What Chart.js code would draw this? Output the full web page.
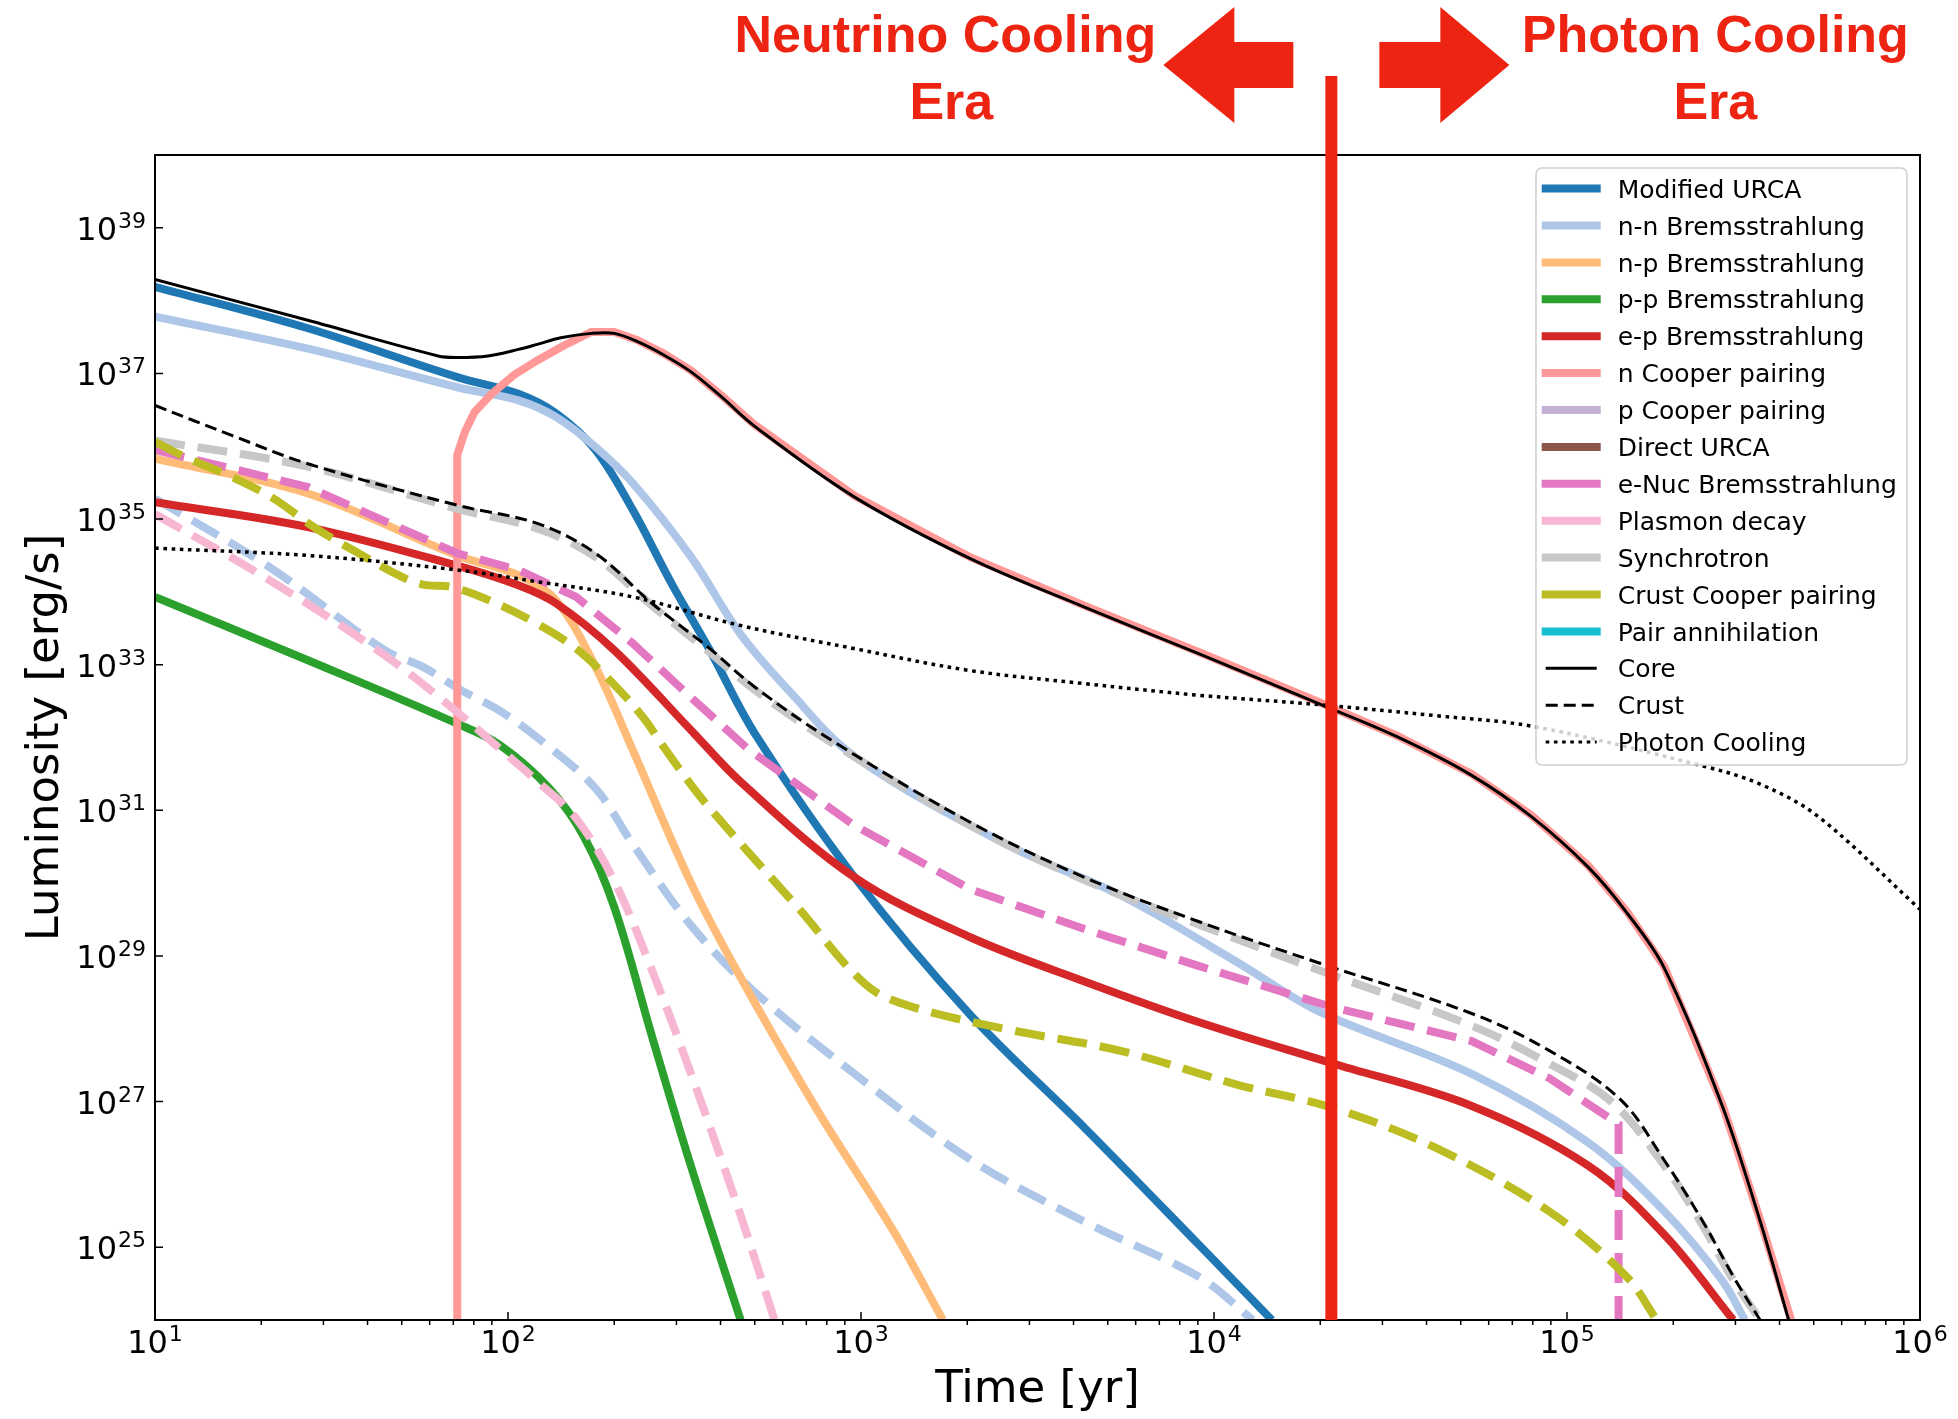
<!DOCTYPE html>
<html>
<head>
<meta charset="utf-8">
<title>Neutron star cooling: luminosity vs time</title>
<script src="https://cdn.jsdelivr.net/npm/chart.js"></script>
<style>
  html, body { margin: 0; padding: 0; background: #fff; }
  #wrap { width: 1958px; height: 1419px; }
</style>
</head>
<body>
<div id="wrap"><canvas id="coolingChart" width="1958" height="1419"></canvas></div>
<script>
// curves, each point is [time in yr, luminosity in erg/s]
const modifiedUrca = [[10, 1.55e38], [27.1, 4.17e37], [71.8, 8.91e36], [107, 5.25e36], [137, 2.82e36], [177, 8.91e35], [226, 1.32e35], [291, 1.29e34], [373, 1.58e33], [501, 1.12e32], [959, 1.20e30], [2032, 1.58e28], [4295, 4.37e26], [9078, 1.07e25], [14590, 1e24]];
const nnBrems = [[10, 6.03e37], [27.1, 2.19e37], [71.8, 6.46e36], [107, 4.27e36], [137, 2.51e36], [177, 9.77e35], [226, 3.09e35], [330, 3.02e34], [454, 2.69e33], [631, 4.17e32], [959, 5.50e31], [2606, 3.31e30], [5508, 6.61e29], [11670, 8.13e28], [19950, 1.70e28], [53700, 2.40e27], [114800, 2.75e26], [188800, 3.09e25], [275400, 3.47e24], [319200, 1e24]];
const nnBremsCrust = [[10, 1.91e35], [21.1, 2.19e34], [44.7, 1.58e33], [57.4, 9.33e32], [73.6, 4.47e32], [94.6, 2.34e32], [121, 1.0e32], [177, 2.0e31], [226, 3.39e30], [330, 2.63e29], [501, 3.16e28], [959, 2.40e27], [2032, 1.62e26], [4295, 2.24e25], [9078, 3.89e24], [12880, 1e24]];
const npBrems = [[10, 6.76e35], [27.1, 2.24e35], [71.8, 3.16e34], [107, 1.70e34], [137, 7.59e33], [177, 9.33e32], [226, 6.61e31], [330, 1.0e30], [454, 5.25e28], [748, 7.94e26], [1233, 1.70e25], [1706, 1e24]];
const ppBrems = [[10, 8.51e33], [27.1, 1.15e33], [71.8, 1.55e32], [94.6, 7.94e31], [131, 2.0e31], [164, 4.37e30], [200, 4.68e29], [256, 7.76e27], [330, 1.29e26], [456, 1e24]];
const epBrems = [[10, 1.70e35], [27.1, 7.76e34], [71.8, 2.29e34], [107, 1.23e34], [137, 6.92e33], [200, 1.58e33], [330, 1.26e32], [454, 2.51e31], [959, 1.20e30], [2032, 1.82e29], [4295, 4.47e28], [9078, 1.23e28], [21480, 3.39e27], [53700, 8.71e26], [114800, 1.32e26], [188800, 1.48e25], [295800, 1e24]];
const nCooper = [[71.8, 1e24], [71.8, 7.59e35], [75.5, 1.58e36], [80.4, 2.95e36], [89.9, 5.25e36], [104, 9.55e36], [121, 1.51e37], [141, 2.29e37], [172, 3.72e37], [200, 3.72e37], [232, 2.88e37], [277, 1.86e37], [330, 1.10e37], [402, 5.01e36], [501, 1.95e36], [959, 2.09e35], [2032, 3.02e34], [4295, 6.46e33], [9078, 1.48e33], [19950, 3.02e32], [33100, 1.05e32], [53700, 3.16e31], [79430, 8.51e30], [114800, 1.74e30], [147900, 4.07e29], [188800, 7.08e28], [275400, 9.12e26], [352400, 2.40e25], [431500, 1e24]];
const eNucBrems = [[10, 8.91e35], [27.1, 2.75e35], [71.8, 3.39e34], [107, 2.0e34], [156, 8.51e33], [226, 1.95e33], [330, 3.55e32], [479, 6.92e31], [959, 6.17e30], [2032, 8.32e29], [4295, 2.34e29], [9078, 7.24e28], [21480, 2.0e28], [53700, 6.76e27], [89130, 2.09e27], [140000, 4.90e26], [140000, 1e24]];
const plasmonDecay = [[10, 1.17e35], [21.1, 1.45e34], [44.7, 1.35e33], [71.8, 2.24e32], [94.6, 7.08e31], [121, 2.51e31], [156, 7.76e30], [200, 1.07e30], [256, 6.31e28], [330, 2.40e27], [423, 7.94e25], [466, 2.0e25], [569, 1e24]];
const synchrotron = [[10, 1.20e36], [27.1, 5.25e35], [71.8, 1.38e35], [121, 7.41e34], [177, 3.02e34], [256, 6.46e33], [373, 1.48e33], [501, 4.47e32], [826, 8.51e31], [2032, 6.31e30], [4295, 1.10e30], [9078, 2.69e29], [19950, 6.31e28], [53700, 1.10e28], [89130, 3.31e27], [133400, 1.0e27], [188800, 1.32e26], [242100, 2.0e25], [295800, 3.55e24], [352400, 1e24]];
const crustCooper = [[10, 1.15e36], [12.2, 7.08e35], [16.5, 3.80e35], [21.7, 1.91e35], [28.2, 7.76e34], [37.1, 3.55e34], [49.4, 1.66e34], [57.5, 1.26e34], [69.2, 1.17e34], [88.9, 7.59e33], [118, 3.89e33], [154, 1.74e33], [195, 6.03e32], [241, 1.91e32], [277, 7.24e31], [346, 1.66e31], [429, 4.90e30], [661, 4.68e29], [1035, 3.98e28], [1396, 2.0e28], [2606, 9.77e27], [5508, 4.90e27], [11670, 1.70e27], [21480, 8.32e26], [42270, 2.34e26], [89130, 3.09e25], [147200, 3.98e24], [179500, 1e24]];
const coreTotal = [[10, 1.95e38], [27.1, 5.37e37], [63.4, 1.74e37], [71.8, 1.66e37], [87.7, 1.74e37], [107, 2.14e37], [121, 2.51e37], [141, 3.09e37], [172, 3.55e37], [200, 3.55e37], [232, 2.75e37], [277, 1.78e37], [330, 1.05e37], [402, 4.79e36], [501, 1.86e36], [959, 2.0e35], [2032, 2.88e34], [4295, 6.17e33], [9078, 1.41e33], [19950, 2.88e32], [33100, 1.02e32], [53700, 3.02e31], [79430, 8.13e30], [114800, 1.66e30], [147900, 3.89e29], [188800, 6.76e28], [275400, 8.71e26], [352400, 2.29e25], [424600, 1e24]];
const crustTotal = [[10, 3.63e36], [16.5, 1.41e36], [27.1, 5.75e35], [71.8, 1.55e35], [121, 8.71e34], [177, 3.39e34], [256, 6.92e33], [373, 1.66e33], [501, 4.90e32], [826, 9.12e31], [2032, 6.92e30], [4295, 1.20e30], [9078, 2.95e29], [19950, 7.94e28], [53700, 1.62e28], [89130, 5.01e27], [141600, 1.07e27], [188800, 1.55e26], [242100, 2.29e25], [295800, 3.98e24], [352400, 1e24]];
const photonCooling = [[10, 3.98e34], [27.1, 3.16e34], [71.8, 2.0e34], [121, 1.38e34], [226, 8.51e33], [454, 3.47e33], [959, 1.66e33], [2032, 8.32e32], [4295, 5.50e32], [9078, 3.80e32], [19950, 2.82e32], [42200, 2.0e32], [80720, 1.41e32], [242100, 4.07e31], [352400, 2.29e31], [512900, 8.32e30], [1e6, 4.37e29]];

// legend entries, in the order of the figure
const legendNames = ['Modified URCA', 'n-n Bremsstrahlung', 'n-p Bremsstrahlung', 'p-p Bremsstrahlung', 'e-p Bremsstrahlung', 'n Cooper pairing', 'p Cooper pairing', 'Direct URCA', 'e-Nuc Bremsstrahlung', 'Plasmon decay', 'Synchrotron', 'Crust Cooper pairing', 'Pair annihilation', 'Core', 'Crust', 'Photon Cooling'];
const legendColors = ['#1f77b4', '#aec7e8', '#ffbb78', '#2ca02c', '#d62728', '#ff9896', '#c5b0d5', '#8c564b', '#e377c2', '#f7b6d2', '#c7c7c7', '#bcbd22', '#17becf', '#000000', '#000000', '#000000'];

// axis ticks
const timeTicks = [1e1, 1e2, 1e3, 1e4, 1e5, 1e6];
const lumTicks = [1e25, 1e27, 1e29, 1e31, 1e33, 1e35, 1e37, 1e39];

// time where neutrino cooling hands over to photon cooling
const eraBoundary = 2.15e4;

const RED = '#ee2413';
const DASH = [30, 13];

function series(label, points, color, opts) {
    return Object.assign({
        label: label,
        data: points.map(p => ({ x: p[0], y: p[1] })),
        borderColor: color,
        backgroundColor: color,
        borderWidth: 8,
        fill: false,
        pointRadius: 0,
        tension: 0.35,
        clip: 0
    }, opts || {});
}

const datasets = [
    series('Modified URCA', modifiedUrca, '#1f77b4'),
    series('n-n Bremsstrahlung', nnBrems, '#aec7e8'),
    series('n-n Bremsstrahlung (crust)', nnBremsCrust, '#aec7e8', { borderDash: DASH }),
    series('n-p Bremsstrahlung', npBrems, '#ffbb78'),
    series('p-p Bremsstrahlung', ppBrems, '#2ca02c'),
    series('e-p Bremsstrahlung', epBrems, '#d62728'),
    series('n Cooper pairing', nCooper, '#ff9896', { tension: 0 }),
    series('e-Nuc Bremsstrahlung', eNucBrems, '#e377c2', { borderDash: DASH, tension: 0 }),
    series('Plasmon decay', plasmonDecay, '#f7b6d2', { borderDash: DASH }),
    series('Synchrotron', synchrotron, '#c7c7c7', { borderDash: DASH }),
    series('Crust Cooper pairing', crustCooper, '#bcbd22', { borderDash: DASH }),
    series('Core', coreTotal, '#000000', { borderWidth: 3 }),
    series('Crust', crustTotal, '#000000', { borderWidth: 3, borderDash: [12, 6] }),
    series('Photon Cooling', photonCooling, '#000000', { borderWidth: 3.5, borderDash: [3.6, 4.6] })
];
// later series are painted on top, like the original plot
datasets.forEach((d, i) => { d.order = -i; });

function drawPower(ctx, exp, x, baseline, align) {
    ctx.font = '32px "DejaVu Sans"';
    const wb = ctx.measureText('10').width;
    ctx.font = '22px "DejaVu Sans"';
    const we = ctx.measureText(String(exp)).width;
    const total = wb + 1 + we;
    const x0 = align === 'right' ? x - total : x - total / 2;
    ctx.textAlign = 'left';
    ctx.textBaseline = 'alphabetic';
    ctx.font = '32px "DejaVu Sans"';
    ctx.fillText('10', x0, baseline);
    ctx.font = '22px "DejaVu Sans"';
    ctx.fillText(String(exp), x0 + wb + 1, baseline - 12);
}

const axesPlugin = {
    id: 'axesPlugin',
    afterDatasetsDraw(chart) {
        const ctx = chart.ctx;
        const a = chart.chartArea;
        const x = chart.scales.x;
        const y = chart.scales.y;
        ctx.save();
        ctx.strokeStyle = '#000';
        ctx.fillStyle = '#000';

        // ticks
        ctx.lineWidth = 1.5;
        ctx.beginPath();
        timeTicks.forEach(v => {
            const px = x.getPixelForValue(v);
            ctx.moveTo(px, a.bottom);
            ctx.lineTo(px, a.bottom - 8);
        });
        for (let d = 1; d < 6; d++) {
            for (let m = 2; m < 10; m++) {
                const px = x.getPixelForValue(m * Math.pow(10, d));
                ctx.moveTo(px, a.bottom);
                ctx.lineTo(px, a.bottom + 5);
            }
        }
        lumTicks.forEach(v => {
            const py = y.getPixelForValue(v);
            ctx.moveTo(a.left, py);
            ctx.lineTo(a.left + 8, py);
        });
        ctx.stroke();

        // frame
        ctx.lineWidth = 2;
        ctx.strokeRect(a.left, a.top, a.right - a.left, a.bottom - a.top);

        // tick labels
        timeTicks.forEach(v => {
            drawPower(ctx, Math.round(Math.log10(v)), x.getPixelForValue(v), a.bottom + 33, 'center');
        });
        lumTicks.forEach(v => {
            drawPower(ctx, Math.round(Math.log10(v)), a.left - 9, y.getPixelForValue(v) + 12, 'right');
        });

        // axis titles
        ctx.font = '45px "DejaVu Sans"';
        ctx.textAlign = 'center';
        ctx.textBaseline = 'alphabetic';
        ctx.fillText('Time [yr]', (a.left + a.right) / 2, a.bottom + 82);
        ctx.save();
        ctx.translate(58, (a.top + a.bottom) / 2);
        ctx.rotate(-Math.PI / 2);
        ctx.fillText('Luminosity [erg/s]', 0, 0);
        ctx.restore();
        ctx.restore();
    }
};

const eraPlugin = {
    id: 'eraPlugin',
    afterDatasetsDraw(chart) {
        const ctx = chart.ctx;
        const a = chart.chartArea;
        const bx = chart.scales.x.getPixelForValue(eraBoundary);
        ctx.save();
        ctx.fillStyle = RED;
        ctx.strokeStyle = RED;

        // boundary line, running above the axes
        ctx.lineWidth = 12;
        ctx.beginPath();
        ctx.moveTo(bx, 76);
        ctx.lineTo(bx, a.bottom);
        ctx.stroke();

        // arrows
        const cy = 65;
        ctx.beginPath();
        ctx.moveTo(bx - 168, cy);
        ctx.lineTo(bx - 97, cy - 58);
        ctx.lineTo(bx - 97, cy - 23);
        ctx.lineTo(bx - 38, cy - 23);
        ctx.lineTo(bx - 38, cy + 23);
        ctx.lineTo(bx - 97, cy + 23);
        ctx.lineTo(bx - 97, cy + 58);
        ctx.closePath();
        ctx.fill();
        ctx.beginPath();
        ctx.moveTo(bx + 178, cy);
        ctx.lineTo(bx + 109, cy - 58);
        ctx.lineTo(bx + 109, cy - 23);
        ctx.lineTo(bx + 48, cy - 23);
        ctx.lineTo(bx + 48, cy + 23);
        ctx.lineTo(bx + 109, cy + 23);
        ctx.lineTo(bx + 109, cy + 58);
        ctx.closePath();
        ctx.fill();

        // labels
        ctx.font = 'bold 52px "Liberation Sans", Arial, sans-serif';
        ctx.textAlign = 'center';
        ctx.textBaseline = 'alphabetic';
        ctx.fillText('Neutrino Cooling', bx - 386, 52);
        ctx.fillText('Era', bx - 380, 119);
        ctx.fillText('Photon Cooling', bx + 384, 52);
        ctx.fillText('Era', bx + 384, 119);
        ctx.restore();
    }
};

const legendPlugin = {
    id: 'legendPlugin',
    afterDatasetsDraw(chart) {
        const ctx = chart.ctx;
        const a = chart.chartArea;
        const boxL = a.right - 384, boxT = a.top + 13;
        const boxW = 371, boxH = 597;
        ctx.save();
        ctx.beginPath();
        ctx.roundRect(boxL, boxT, boxW, boxH, 6);
        ctx.fillStyle = 'rgba(255,255,255,0.8)';
        ctx.fill();
        ctx.lineWidth = 1.5;
        ctx.strokeStyle = '#d0d0d0';
        ctx.stroke();

        ctx.font = '25px "DejaVu Sans"';
        ctx.textAlign = 'left';
        ctx.textBaseline = 'alphabetic';
        legendNames.forEach((name, i) => {
            const rowY = boxT + 20.6 + i * 36.9;
            const x1 = boxL + 9.7, x2 = boxL + 60.7;
            ctx.beginPath();
            if (i < 13) {
                ctx.lineWidth = 8;
                ctx.lineCap = 'square';
                ctx.setLineDash([]);
            } else {
                ctx.lineWidth = 3;
                ctx.lineCap = 'butt';
                ctx.setLineDash(i === 13 ? [] : (i === 14 ? [12, 6] : [3.6, 4.6]));
            }
            ctx.strokeStyle = legendColors[i];
            ctx.moveTo(x1, rowY);
            ctx.lineTo(x2, rowY);
            ctx.stroke();
            ctx.fillStyle = '#000';
            ctx.fillText(name, boxL + 81.7, rowY + 9.1);
        });
        ctx.restore();
    }
};

document.addEventListener('DOMContentLoaded', function() {
    const ctx = document.getElementById('coolingChart').getContext('2d');
    new Chart(ctx, {
        type: 'line',
        data: { datasets: datasets },
        options: {
            responsive: false,
            devicePixelRatio: 1,
            animation: false,
            events: [],
            layout: { padding: { left: 155, top: 155, right: 38, bottom: 99 } },
            scales: {
                x: { type: 'logarithmic', min: 10, max: 1e6, display: false },
                y: { type: 'logarithmic', min: 1e24, max: 1e40, display: false }
            },
            plugins: {
                legend: { display: false },
                tooltip: { enabled: false }
            }
        },
        plugins: [axesPlugin, eraPlugin, legendPlugin]
    });
});
</script>
</body>
</html>
